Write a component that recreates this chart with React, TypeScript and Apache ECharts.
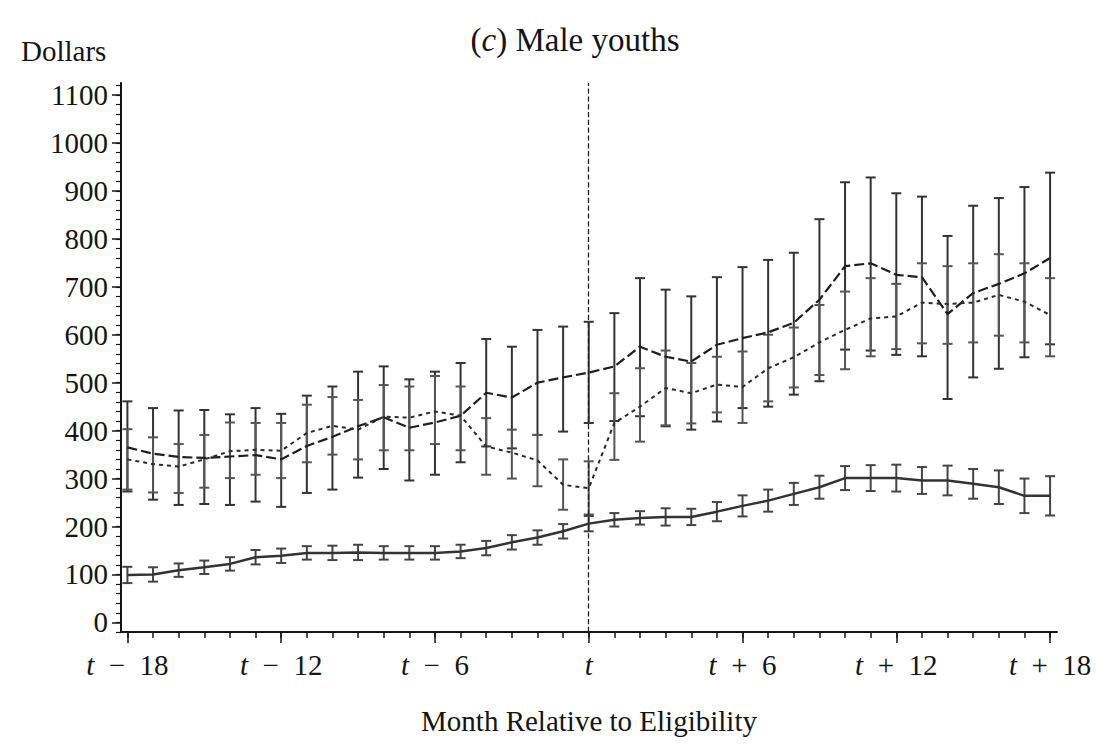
import React, { useEffect, useRef } from "react";
import * as echarts from "echarts";

const months = [-18,-17,-16,-15,-14,-13,-12,-11,-10,-9,-8,-7,-6,-5,-4,-3,-2,-1,0,1,2,3,4,5,6,7,8,9,10,11,12,13,14,15,16,17,18];

// long-dash series
const aMean = [365,352,345,343,346,349,340,368,387,409,428,406,417,431,479,469,500,511,521,534,575,554,544,579,593,605,625,673,743,749,725,720,643,687,706,728,760];
const aLow = [273,256,245,247,245,252,241,270,277,302,320,296,308,334,367,363,391,398,416,420,430,409,402,419,447,450,475,503,569,567,558,555,466,511,529,553,580];
const aHigh = [461,447,442,443,434,447,435,473,492,523,534,507,523,541,591,575,610,617,627,645,718,694,680,720,741,756,771,841,918,928,895,888,806,869,885,908,938];

// short-dash series
const bMean = [340,330,325,340,357,360,358,395,410,402,429,427,440,431,367,354,338,287,280,416,450,489,478,496,491,530,553,584,610,634,638,667,664,667,683,669,641];
const bLow = [277,271,270,281,301,308,301,334,350,340,359,359,372,359,308,300,284,235,225,339,377,411,415,438,416,461,490,516,528,555,570,582,581,584,598,584,555];
const bHigh = [403,386,372,391,417,416,416,454,470,464,495,492,514,492,426,402,391,340,336,478,530,567,541,554,565,600,615,662,690,718,706,749,743,749,768,749,718];

// solid bottom series
const cMean = [99,100,109,115,122,136,139,145,145,146,145,145,145,148,155,167,177,190,206,214,218,220,220,231,243,254,268,282,301,301,301,296,296,289,282,264,264];
const cLow = [82,85,95,101,108,121,124,131,130,130,131,131,131,134,140,152,162,175,190,200,204,202,203,211,221,231,245,258,276,274,273,268,265,258,247,228,223];
const cHigh = [116,115,123,129,136,151,154,159,160,162,159,159,159,162,170,182,192,205,222,228,232,238,237,251,265,277,291,306,326,328,329,324,327,320,317,300,305];

const yLabelValues = [0,100,200,300,400,500,600,700,800,900,1000,1100];
const xLabelValues = [-18,-12,-6,0,6,12,18];

const FONT = "Liberation Serif";
const INK = "#141414";
const CLEAR = "rgba(0,0,0,0)";

export default function App() {
  const ref = useRef<HTMLDivElement>(null);
  useEffect(() => {
    document.body.style.margin = "0";
    const chart = echarts.init(ref.current!, null, { renderer: "svg" });
    const yMinor: number[] = [];
    for (let v = -20; v <= 1120; v += 20) yMinor.push(v);

    const errItem = (color: string) => (params: any, api: any) => {
      const x = api.value(0);
      const lo = api.coord([x, api.value(1)]);
      const hi = api.coord([x, api.value(2)]);
      const hw = 5;
      const style = { stroke: color, lineWidth: 2 };
      return {
        type: "group",
        children: [
          { type: "line", shape: { x1: lo[0], y1: lo[1], x2: hi[0], y2: hi[1] }, style },
          { type: "line", shape: { x1: lo[0] - hw, y1: lo[1], x2: lo[0] + hw, y2: lo[1] }, style },
          { type: "line", shape: { x1: hi[0] - hw, y1: hi[1], x2: hi[0] + hw, y2: hi[1] }, style },
        ],
      };
    };

    const xFmt = (v: number) => {
      if (v === 0) return "{i|t}";
      return v < 0 ? "{i|t}\u2002\u2212\u2002" + -v : "{i|t}\u2002+\u2002" + v;
    };

    const option: any = {
      animation: false,
      backgroundColor: "#fff",
      textStyle: { fontFamily: FONT, color: INK },
      title: [
        {
          text: "({i|c}) Male youths",
          left: 575,
          top: 23,
          padding: 0,
          textAlign: "center",
          textStyle: {
            fontFamily: FONT, fontSize: 33, fontWeight: "normal", color: INK,
            rich: { i: { fontFamily: FONT, fontSize: 33, fontStyle: "italic", color: INK } },
          },
        },
        {
          text: "Dollars",
          left: 21,
          top: 36,
          padding: 0,
          textStyle: { fontFamily: FONT, fontSize: 29, fontWeight: "normal", color: INK },
        },
      ],
      grid: { left: 121, right: 44, top: 83, bottom: 114, containLabel: false },
      xAxis: [
        {
          type: "value", min: -18.25, max: 18.27, position: "bottom",
          name: "Month Relative to Eligibility", nameLocation: "middle", nameGap: 74,
          nameTextStyle: { fontFamily: FONT, fontSize: 29, color: INK },
          axisLine: { show: true, onZero: false, lineStyle: { color: INK, width: 2 } },
          axisTick: { show: true, customValues: months, length: 6, lineStyle: { color: INK, width: 1.5 } },
          axisLabel: {
            show: true, customValues: xLabelValues, formatter: xFmt, margin: 18,
            fontFamily: FONT, fontSize: 29, color: INK,
            rich: { i: { fontFamily: FONT, fontSize: 29, fontStyle: "italic", color: INK } },
          },
          splitLine: { show: false },
        },
        {
          type: "value", min: -18.25, max: 18.27, position: "bottom",
          axisLine: { show: true, onZero: false, lineStyle: { color: CLEAR } },
          axisTick: { show: true, customValues: xLabelValues, length: 11, lineStyle: { color: INK, width: 1.5 } },
          axisLabel: { show: false },
          splitLine: { show: false },
        },
      ],
      yAxis: [
        {
          type: "value", min: -20, max: 1125, position: "left",
          axisLine: { show: true, onZero: false, lineStyle: { color: INK, width: 2 } },
          axisTick: { show: true, customValues: yLabelValues, length: 9, lineStyle: { color: INK, width: 1.5 } },
          axisLabel: {
            show: true, customValues: yLabelValues, margin: 13,
            formatter: (v: number) => String(v),
            fontFamily: FONT, fontSize: 29, color: INK,
          },
          splitLine: { show: false },
        },
        {
          type: "value", min: -20, max: 1125, position: "left",
          axisLine: { show: true, onZero: false, lineStyle: { color: CLEAR } },
          axisTick: { show: true, customValues: yMinor, length: 5, lineStyle: { color: INK, width: 1.2 } },
          axisLabel: { show: false },
          splitLine: { show: false },
        },
      ],
      series: [
        {
          type: "custom", name: "aErr", renderItem: errItem("#333"),
          encode: { x: 0, y: [1, 2] },
          data: months.map((m, i) => [m, aLow[i], aHigh[i]]),
          z: 2,
        },
        {
          type: "custom", name: "bErr", renderItem: errItem("#555"),
          encode: { x: 0, y: [1, 2] },
          data: months.map((m, i) => [m, bLow[i], bHigh[i]]),
          z: 2,
        },
        {
          type: "custom", name: "cErr", renderItem: errItem("#444"),
          encode: { x: 0, y: [1, 2] },
          data: months.map((m, i) => [m, cLow[i], cHigh[i]]),
          z: 2,
        },
        {
          type: "line", name: "A", data: months.map((m, i) => [m, aMean[i]]),
          symbol: "none", lineStyle: { color: "#1e1e1e", width: 2.2, type: [10, 4] }, z: 3,
          markLine: {
            silent: true, symbol: "none", label: { show: false },
            lineStyle: { color: "#222", width: 1.3, type: "dashed" },
            data: [{ xAxis: 0 }],
          },
        },
        {
          type: "line", name: "B", data: months.map((m, i) => [m, bMean[i]]),
          symbol: "none", lineStyle: { color: "#2a2a2a", width: 2, type: [4, 4] }, z: 3,
        },
        {
          type: "line", name: "C", data: months.map((m, i) => [m, cMean[i]]),
          symbol: "none", lineStyle: { color: "#333", width: 2.5, type: "solid" }, z: 3,
        },
      ],
    };
    chart.setOption(option);
    return () => chart.dispose();
  }, []);
  return <div ref={ref} style={{ position: "absolute", left: 0, top: 0, width: 1101, height: 746 }} />;
}
